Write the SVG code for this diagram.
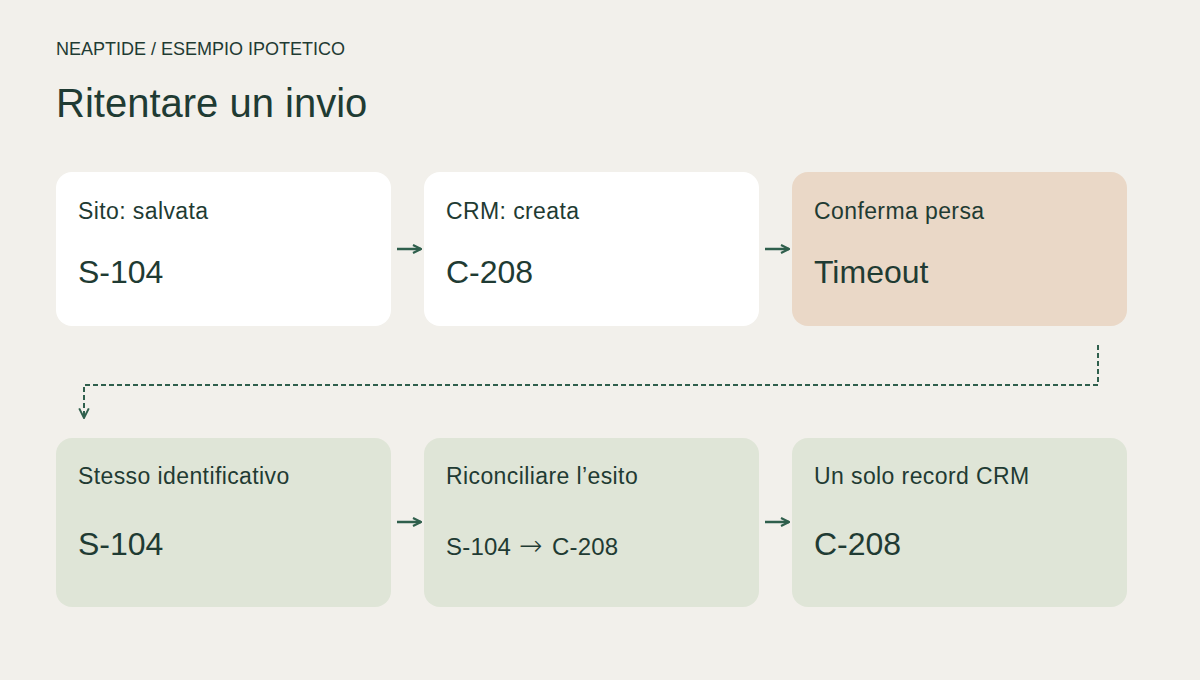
<svg xmlns="http://www.w3.org/2000/svg" width="1200" height="680" viewBox="0 0 1200 680">
<defs>
<style>
.t{font-family:"Liberation Sans",Arial,sans-serif;fill:#1f3b33}
.lab{font-size:23px;letter-spacing:0.4px}
.val{font-size:32px}
.box{fill:#ffffff}
.grn{fill:#dfe5d7}
.pch{fill:#ead8c7}
.arr{stroke:#2f5f4c;stroke-width:2.5;fill:none}
.dash{stroke:#2f5f4c;stroke-width:2;fill:none;stroke-dasharray:5 3}
</style>
<marker id="ah" viewBox="0 0 10 10" refX="9" refY="5" markerWidth="10" markerHeight="10" markerUnits="userSpaceOnUse" orient="auto">
<path d="M1 1 L9 5 L1 9" fill="none" stroke="#2f5f4c" stroke-width="2.2"/>
</marker>
<marker id="ah2" viewBox="0 0 10 10" refX="9" refY="5" markerWidth="12" markerHeight="12" markerUnits="userSpaceOnUse" orient="auto">
<path d="M1 1 L9 5 L1 9" fill="none" stroke="#2f5f4c" stroke-width="1.6"/>
</marker>
</defs>
<rect width="1200" height="680" fill="#f2f0eb"/>
<text class="t" x="56" y="55" font-size="18">NEAPTIDE / ESEMPIO IPOTETICO</text>
<text class="t" x="56" y="117" font-size="40">Ritentare un invio</text>
<g id="n1"><rect class="box" x="56" y="172" width="335" height="154" rx="16"/><text class="t lab" x="78" y="219">Sito: salvata</text><text class="t val" x="78" y="283">S-104</text></g>
<g id="n2"><rect class="box" x="424" y="172" width="335" height="154" rx="16"/><text class="t lab" x="446" y="219">CRM: creata</text><text class="t val" x="446" y="283">C-208</text></g>
<g id="n3"><rect class="pch" x="792" y="172" width="335" height="154" rx="16"/><text class="t lab" x="814" y="219">Conferma persa</text><text class="t val" x="814" y="283">Timeout</text></g>
<g id="n4"><rect class="grn" x="56" y="438" width="335" height="169" rx="16"/><text class="t lab" x="78" y="484">Stesso identificativo</text><text class="t val" x="78" y="555">S-104</text></g>
<g id="n5"><rect class="grn" x="424" y="438" width="335" height="169" rx="16"/><text class="t lab" x="446" y="484">Riconciliare l’esito</text><text class="t" x="446" y="555" font-size="24" letter-spacing="0.2">S-104 <tspan x="519" font-family="DejaVu Sans" font-weight="200" font-size="28">→</tspan> <tspan x="552">C-208</tspan></text></g>
<g id="n6"><rect class="grn" x="792" y="438" width="335" height="169" rx="16"/><text class="t lab" x="814" y="484">Un solo record CRM</text><text class="t val" x="814" y="555">C-208</text></g>
<g id="connectors">
<line class="arr" x1="397" y1="249" x2="421" y2="249" marker-end="url(#ah)"/>
<line class="arr" x1="765" y1="249" x2="789" y2="249" marker-end="url(#ah)"/>
<line class="arr" x1="397" y1="522" x2="421" y2="522" marker-end="url(#ah)"/>
<line class="arr" x1="765" y1="522" x2="789" y2="522" marker-end="url(#ah)"/>
<path class="dash" d="M1098 345 V385 H84 V418" marker-end="url(#ah2)"/>
</g>
</svg>
